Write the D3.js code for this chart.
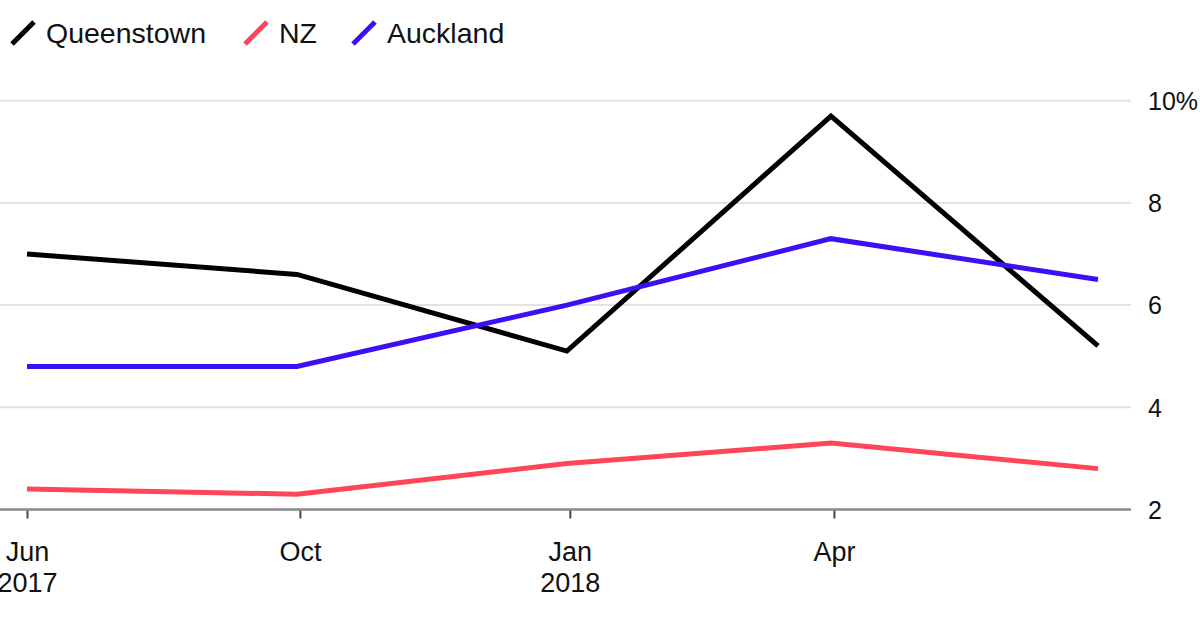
<!DOCTYPE html>
<html><head><meta charset="utf-8">
<script src="https://cdn.jsdelivr.net/npm/d3@7"></script>
<style>
html,body{margin:0;padding:0;background:#fff;}
svg{display:block;font-family:"Liberation Sans",Arial,Helvetica,sans-serif;}
</style></head>
<body>
<svg id="c" width="1200" height="628"></svg>
<script>
const dates = ["2017-06-30","2017-09-30","2017-12-31","2018-03-31","2018-06-30"];
const queenstown = [7.0, 6.6, 5.1, 9.7, 5.2];
const nz = [2.4, 2.3, 2.9, 3.3, 2.8];
const auckland = [4.8, 4.8, 6.0, 7.3, 6.5];
const seriesNames = ["Queenstown","NZ","Auckland"];
const seriesColors = ["#000000","#ff4558","#3d0ff5"];
const yTicks = [2,4,6,8,10];
const xTickDates = ["2017-06-30","2017-10-01","2018-01-01","2018-04-01"];
const xTickLabels = [["Jun","2017"],["Oct"],["Jan","2018"],["Apr"]];

const parse = d3.utcParse("%Y-%m-%d");
const svg = d3.select("#c");
const x = d3.scaleUtc().domain(d3.extent(dates, parse)).range([27, 1098]);
const y = d3.scaleLinear().domain([2,10]).range([509.5, 100.7]);

// grid
const yAxis = d3.axisRight(y).tickValues(yTicks).tickSize(0)
  .tickFormat(d => d === 10 ? "10%" : d);
const gy = svg.append("g").attr("transform","translate(1131,0)").call(yAxis);
gy.select(".domain").remove();
gy.selectAll("text").attr("x", 17).attr("dy","0.35em")
  .style("font-size","25px").style("fill","#111");

svg.append("g").selectAll("line").data(yTicks.filter(d=>d!==2)).join("line")
  .attr("x1",0).attr("x2",1131).attr("y1",d=>y(d)).attr("y2",d=>y(d))
  .attr("stroke","#e2e2e2").attr("stroke-width",2);

// x axis
const xAxis = d3.axisBottom(x).tickValues(xTickDates.map(parse)).tickSize(9).tickFormat("");
const gx = svg.append("g").attr("transform",`translate(0,${y(2)})`).call(xAxis);
gx.select(".domain").remove();
gx.selectAll(".tick line").attr("stroke","#444").attr("stroke-width",2);
svg.append("line").attr("x1",0).attr("x2",1131).attr("y1",y(2)).attr("y2",y(2))
  .attr("stroke","#8a8a8a").attr("stroke-width",2.5);
gx.selectAll(".tick").each(function(d,i){
  const t = d3.select(this).append("text").attr("fill","#111")
    .style("font-size","27px").attr("text-anchor","middle");
  xTickLabels[i].forEach((s,j)=>{
    t.append("tspan").attr("x",0).attr("y",51 + j*31).text(s);
  });
});

// lines
const line = d3.line().x((d,i)=>x(parse(dates[i]))).y(d=>y(d));
[queenstown, nz, auckland].forEach((s,i)=>{
  svg.append("path").datum(s).attr("d",line).attr("fill","none")
    .attr("stroke",seriesColors[i]).attr("stroke-width",5)
    .attr("stroke-linejoin","miter");
});

// legend
const legX = [12, 245, 353];
const leg = svg.append("g");
seriesNames.forEach((n,i)=>{
  leg.append("line").attr("x1",legX[i]).attr("y1",44).attr("x2",legX[i]+22).attr("y2",22)
    .attr("stroke",seriesColors[i]).attr("stroke-width",5);
  leg.append("text").attr("x",legX[i]+34).attr("y",43).text(n)
    .style("font-size","28.5px").attr("fill","#111");
});
</script>
</body></html>
